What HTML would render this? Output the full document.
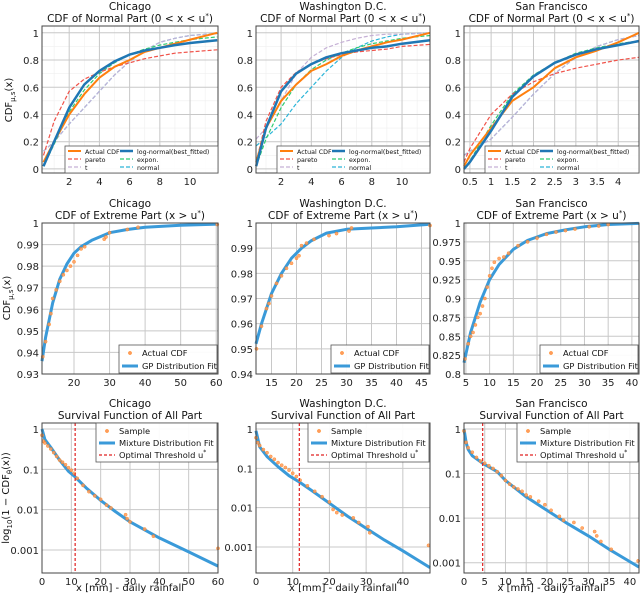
<!DOCTYPE html>
<html><head><meta charset="utf-8"><style>
html,body{margin:0;padding:0;background:#fff}
svg{display:block;font-family:"DejaVu Sans","Liberation Sans",sans-serif}
</style></head><body>
<svg id="fig" width="640" height="598" viewBox="0 0 640 598" xmlns="http://www.w3.org/2000/svg"></svg>
<script>
// ---------- Row 1 data: CDF of normal part ----------
const chiX1 = [0.3,1,2,3,4,5,6,7,8,9,10,11.8];
const chiLogn = [0.02,0.2,0.45,0.62,0.72,0.79,0.84,0.87,0.89,0.91,0.925,0.945];
const chiAct = [0.05,0.2,0.4,0.55,0.67,0.75,0.8,0.86,0.89,0.92,0.95,1.0];
const chiPar = [0.1,0.35,0.57,0.66,0.71,0.75,0.78,0.81,0.83,0.85,0.86,0.875];
const chiT = [0.13,0.2,0.33,0.45,0.57,0.69,0.79,0.87,0.93,0.96,0.98,0.995];
const chiExp = [0.02,0.18,0.42,0.58,0.70,0.78,0.84,0.88,0.91,0.93,0.95,0.97];
const chiNor = [0.13,0.2,0.33,0.45,0.57,0.69,0.79,0.87,0.93,0.96,0.98,0.995];
const dcX1 = [0.35,1,2,3,4,5,6,7,8,9,10,11.85];
const dcLogn = [0.02,0.3,0.57,0.7,0.77,0.82,0.85,0.87,0.89,0.9,0.92,0.945];
const dcAct = [0.05,0.3,0.5,0.62,0.72,0.77,0.83,0.87,0.9,0.93,0.95,1.0];
const dcPar = [0.05,0.35,0.6,0.71,0.77,0.81,0.84,0.86,0.87,0.88,0.9,0.915];
const dcT = [0.22,0.3,0.5,0.7,0.82,0.89,0.93,0.96,0.98,0.99,0.99,1.0];
const dcExp = [0.02,0.22,0.45,0.62,0.73,0.8,0.85,0.89,0.92,0.94,0.96,0.98];
const dcNor = [0.17,0.23,0.33,0.48,0.6,0.72,0.82,0.89,0.94,0.97,0.99,1.0];
const sfX1 = [0.36,0.5,1,1.5,2,2.5,3,3.5,4,4.49];
const sfLogn = [0.0,0.05,0.28,0.53,0.68,0.78,0.84,0.88,0.91,0.94];
const sfAct = [0.02,0.1,0.3,0.5,0.6,0.74,0.82,0.87,0.93,1.0];
const sfPar = [0.05,0.15,0.4,0.55,0.64,0.7,0.74,0.77,0.8,0.82];
const sfT = [0.1,0.13,0.22,0.38,0.55,0.7,0.82,0.9,0.95,0.98];
const sfExp = [0.0,0.06,0.32,0.55,0.69,0.78,0.85,0.89,0.92,0.94];
const sfNor = [0.1,0.13,0.22,0.38,0.55,0.7,0.82,0.9,0.95,0.98];
// ---------- Row 2 data: GP fits + actual CDF ----------
const chiX2 = [11,12,14,16,18,20,22,25,30,35,40,50,60.5];
const chiGP = [0.936,0.947,0.963,0.974,0.981,0.986,0.989,0.992,0.9955,0.997,0.998,0.999,0.9995];
const chiPtX = [11.2,12,13,13.5,14,15,16,17,18,19,20,21,22,23,28.5,29,30,35,38,60.3];
const chiPtY = [0.938,0.945,0.953,0.958,0.965,0.969,0.973,0.976,0.978,0.98,0.982,0.985,0.988,0.989,0.9925,0.9935,0.9955,0.997,0.998,0.9993];
const dcX2 = [11.9,13,15,17,19,21,23,26,30,35,40,46.7];
const dcGP = [0.952,0.96,0.972,0.98,0.986,0.99,0.993,0.996,0.9975,0.998,0.9985,0.9995];
const dcPtX = [12,13,14,14.5,15,16,17,18,19,20,20.5,21,22,23.5,26.5,28,30.5,31,46.7];
const dcPtY = [0.95,0.959,0.966,0.968,0.971,0.976,0.979,0.982,0.984,0.986,0.987,0.991,0.992,0.9935,0.995,0.9958,0.9968,0.998,0.999];
const sfX2 = [4.6,6,8,10,12,15,18,22,26,30,35,41.5];
const sfGP = [0.815,0.855,0.895,0.925,0.945,0.965,0.977,0.986,0.991,0.995,0.998,0.9995];
const sfPtX = [4.8,5.5,6,6.5,7,7.5,8,8.5,9,9.5,10,10.5,11,12,13,14,16,18,20,22,24,26,28,31,33,35];
const sfPtY = [0.82,0.84,0.85,0.855,0.865,0.875,0.88,0.89,0.9,0.915,0.93,0.94,0.948,0.953,0.955,0.96,0.97,0.975,0.98,0.985,0.988,0.99,0.992,0.995,0.996,0.998];
// ---------- Row 3 data: survival ----------
const chiX3 = [0,1,3,6,9,11.3,15,20,25,30,40,50,60];
const chiSF = [1,0.55,0.35,0.17,0.09,0.065,0.035,0.017,0.009,0.005,0.002,0.0009,0.0004];
const chiSX = [0,0.5,1,2,3,4,5,6,7,8,9,10,11,12,14,16,18,20,22,23.5,28.5,29,30,35,38,60];
const chiSY = [0.7,0.5,0.45,0.38,0.32,0.26,0.21,0.17,0.15,0.13,0.11,0.095,0.08,0.06,0.04,0.028,0.022,0.018,0.013,0.011,0.0075,0.006,0.005,0.0033,0.0022,0.0011];
const dcX3 = [0,1,3,6,9,11.8,15,20,25,30,35,40,47.4];
const dcSF = [0.9,0.35,0.2,0.11,0.065,0.045,0.028,0.013,0.006,0.003,0.0015,0.0008,0.0003];
const dcSX = [0,0.5,1,2,3,4,5,6,7,8,9,10,11,12,14,16,18,20,21,22,23.5,26.5,28,30.5,31,47];
const dcSY = [0.6,0.45,0.38,0.3,0.25,0.2,0.17,0.14,0.12,0.105,0.09,0.075,0.062,0.05,0.036,0.026,0.019,0.014,0.009,0.0075,0.0065,0.0055,0.0042,0.0033,0.0023,0.0011];
const sfX3 = [0,0.5,1,2,4.5,8,10,15,20,25,30,35,42.2];
const sfSF = [1,0.5,0.35,0.25,0.17,0.11,0.07,0.03,0.015,0.0075,0.004,0.002,0.0008];
const sfSX = [0,0.5,1,2,3,4,5,6,7,8,9,10,11,12,13,14,15,16,18,19.5,21,23,24,26.5,28.5,31.5,32,33,35.5,42];
const sfSY = [0.9,0.5,0.38,0.3,0.23,0.19,0.17,0.15,0.13,0.11,0.09,0.07,0.058,0.05,0.045,0.04,0.033,0.03,0.024,0.02,0.015,0.011,0.009,0.008,0.006,0.005,0.004,0.003,0.002,0.0011];

const thresholds = [11.3, 11.8, 4.5];

const NS = "http://www.w3.org/2000/svg";
const fig = document.getElementById("fig");
function el(tag, attrs, parent){const e=document.createElementNS(NS,tag);for(const k in attrs)e.setAttribute(k,attrs[k]);(parent||fig).appendChild(e);return e;}
function txt(s, attrs, parent){const t=el("text",attrs,parent);t.innerHTML=s;return t;}
const USTAR='u<tspan font-size="7" dy="-4">*</tspan><tspan dy="4">)</tspan>';

const ORANGE="#ff7f0e", BLUE="#1f77b4", LBLUE="#3a9ad9", RED="#f0534a", LAV="#c5b0d5", GREEN="#2ecc71", CYAN="#2bb5d8";

function panel(p){
  const g=el("g",{});
  
  
  const [L,T,R,B]=p.box;
  const sx=v=>L+(v-p.xl[0])/(p.xl[1]-p.xl[0])*(R-L);
  const sy=p.log? v=>B-(Math.log10(v)-Math.log10(p.yl[0]))/(Math.log10(p.yl[1])-Math.log10(p.yl[0]))*(B-T)
               : v=>B-(v-p.yl[0])/(p.yl[1]-p.yl[0])*(B-T);
  (p.xminor||[]).forEach(v=>{const x=sx(v);if(x>L&&x<R)el("line",{x1:x,x2:x,y1:T,y2:B,stroke:"#efefef","stroke-width":0.6},g);});
  (p.yminor||[]).forEach(v=>{const y=sy(v);if(y>T&&y<B)el("line",{x1:L,x2:R,y1:y,y2:y,stroke:"#efefef","stroke-width":0.6},g);});
  p.xt.forEach((v,i)=>{const x=sx(v);
    el("line",{x1:x,x2:x,y1:T,y2:B,stroke:"#c8c8c8","stroke-width":1},g);
    const t=txt(p.xtl[i],{x:x,y:B+12,"font-size":10,"text-anchor":"middle",fill:"#222"},g);
    
    });
  p.yt.forEach((v,i)=>{const y=sy(v);
    el("line",{x1:L,x2:R,y1:y,y2:y,stroke:"#c8c8c8","stroke-width":1},g);
    const t=txt(p.ytl[i],{x:L-3,y:y+4,"font-size":10,"text-anchor":"end",fill:"#222"},g);
    
    });
  const line=(xs,ys,c,w,dash,nm)=>{const d=xs.map((x,i)=>(i?"L":"M")+sx(x).toFixed(1)+","+sy(ys[i]).toFixed(1)).join("");
    const pth=el("path",{d:d,fill:"none",stroke:c,"stroke-width":w,"stroke-dasharray":dash||"none","stroke-linejoin":"round"},g);
    
    return pth;};
  const pts=(xs,ys,nm)=>{xs.forEach((x,i)=>{const c=el("circle",{cx:sx(x),cy:sy(ys[i]),r:1.6,fill:"#ff9a5c",stroke:ORANGE,"stroke-width":0.5,opacity:0.85},g);
    
    });};
  p.draw(line,pts,sx,sy,T,B,g);
  el("rect",{x:L,y:T,width:R-L,height:B-T,fill:"none",stroke:"#444","stroke-width":1},g);
  const t1=txt(p.city,{x:(L+R)/2,y:T-16,"font-size":10.5,"text-anchor":"middle",fill:"#111"},g);
  
  
  const t2=txt(p.sub,{x:(L+R)/2,y:T-4,"font-size":10.5,"text-anchor":"middle",fill:"#111"},g);
  
  
  if(p.legend) p.legend(g);
  return g;
}
function legendBox(g,x,y,w,h,items,fs){
  const lg=el("g",{},g);
  
  
  el("rect",{x:x,y:y,width:w,height:h,fill:"#fff","fill-opacity":0.92,stroke:"#555","stroke-width":0.8},lg);
  items.forEach(it=>{
    const e=el("g",{},lg);
    
    
    if(it.kind==="dot") el("circle",{cx:it.x+it.len/2,cy:it.y-3,r:1.6,fill:"#ff9a5c",stroke:ORANGE,"stroke-width":0.5},e);
    else el("line",{x1:it.x,x2:it.x+it.len,y1:it.y-3,y2:it.y-3,stroke:it.c,"stroke-width":it.w,"stroke-dasharray":it.dash||"none"},e);
    txt(it.t,{x:it.x+it.len+4,y:it.y,"font-size":fs,fill:"#111"},e);
  });
}
const R1=[26,173], R2=[223,374], R3=[423,573];
const C1=[42,218], C2=[256,430], C3=[464,639];
function row1Legend(g,L,R){
  const x0=L+23, x1=L+78;
  legendBox(g,x0,146,R-x0,27,[
    {x:x0+3,y:154,c:ORANGE,w:2,len:13,t:"Actual CDF"},
    {x:x0+3,y:162,c:RED,w:1.2,dash:"4 2",len:13,t:"pareto"},
    {x:x0+3,y:170,c:LAV,w:1.2,dash:"4 2",len:13,t:"t"},
    {x:x1,y:154,c:BLUE,w:2.5,len:13,t:"log-normal(best_fitted)"},
    {x:x1,y:162,c:GREEN,w:1.2,dash:"4 2",len:13,t:"expon."},
    {x:x1,y:170,c:CYAN,w:1.2,dash:"4 2",len:13,t:"normal"}],6.3);
}
function row1Draw(X,A,Lg,P,Tt,E,N){return (line)=>{
  line(X,N,CYAN,1.2,"4 2","normal-fit");
  line(X,Tt,LAV,1.2,"4 2","t-fit");
  line(X,E,GREEN,1.2,"4 2","expon-fit");
  line(X,P,RED,1.2,"4 2","pareto-fit");
  line(X,A,ORANGE,2,null,"actual-cdf");
  line(X,Lg,BLUE,2.5,null,"lognormal-fit");
};}
const ytick1=[0,0.2,0.4,0.6,0.8,1], ytl1=["0","0.2","0.4","0.6","0.8","1"];
const minors=(a,b,s)=>{const r=[];for(let v=a;v<=b+1e-9;v+=s)r.push(+v.toFixed(4));return r;};
const sub1='CDF of Normal Part (0 &lt; x &lt; '+USTAR;
const sub2='CDF of Extreme Part (x &gt; '+USTAR;
panel({name:"chicago-normal-cdf",box:[C1[0],R1[0],C1[1],R1[1]],xl:[0.2,11.85],yl:[-0.03,1.05],city:"Chicago",sub:sub1,
  xt:[2,4,6,8,10],xtl:["2","4","6","8","10"],yt:ytick1,ytl:ytl1,xminor:minors(1,11,1),yminor:minors(0,1,0.1),
  draw:row1Draw(chiX1,chiAct,chiLogn,chiPar,chiT,chiExp,chiNor),legend:g=>row1Legend(g,C1[0],C1[1])});
panel({name:"washington-normal-cdf",box:[C2[0],R1[0],C2[1],R1[1]],xl:[0.34,11.85],yl:[-0.03,1.05],city:"Washington D.C.",sub:sub1,
  xt:[2,4,6,8,10],xtl:["2","4","6","8","10"],yt:ytick1,ytl:ytl1,xminor:minors(1,11,1),yminor:minors(0,1,0.1),
  draw:row1Draw(dcX1,dcAct,dcLogn,dcPar,dcT,dcExp,dcNor),legend:g=>row1Legend(g,C2[0]-2,C2[1])});
panel({name:"sanfrancisco-normal-cdf",box:[C3[0],R1[0],C3[1],R1[1]],xl:[0.36,4.49],yl:[-0.03,1.05],city:"San Francisco",sub:sub1,
  xt:[0.5,1,1.5,2,2.5,3,3.5,4],xtl:["0.5","1","1.5","2","2.5","3","3.5","4"],yt:ytick1,ytl:ytl1,yminor:minors(0,1,0.1),
  draw:row1Draw(sfX1,sfAct,sfLogn,sfPar,sfT,sfExp,sfNor),legend:g=>row1Legend(g,C3[0]-2,C3[1])});
function r2Draw(X,Y,PX,PY){return (line,pts)=>{line(X,Y,LBLUE,3,null,"gp-fit");pts(PX,PY,"actual-cdf-point");};}
function r2Legend(R){return g=>legendBox(g,R-99,345,98,28,[
  {kind:"dot",x:R-96,y:356,len:16,t:"Actual CDF"},
  {x:R-96,y:369,c:LBLUE,w:3,len:16,t:"GP Distribution Fit"}],8.3);}
panel({name:"chicago-extreme-cdf",box:[C1[0],R2[0],C1[1],R2[1]],xl:[11,60.5],yl:[0.93,1],city:"Chicago",sub:sub2,
  xt:[20,30,40,50,60],xtl:["20","30","40","50","60"],yt:[0.93,0.94,0.95,0.96,0.97,0.98,0.99,1],ytl:["0.93","0.94","0.95","0.96","0.97","0.98","0.99","1"],
  draw:r2Draw(chiX2,chiGP,chiPtX,chiPtY),legend:r2Legend(C1[1])});
panel({name:"washington-extreme-cdf",box:[C2[0],R2[0],C2[1],R2[1]],xl:[11.9,46.7],yl:[0.94,1],city:"Washington D.C.",sub:sub2,
  xt:[15,20,25,30,35,40,45],xtl:["15","20","25","30","35","40","45"],yt:[0.94,0.95,0.96,0.97,0.98,0.99,1],ytl:["0.94","0.95","0.96","0.97","0.98","0.99","1"],
  draw:r2Draw(dcX2,dcGP,dcPtX,dcPtY),legend:r2Legend(C2[1])});
panel({name:"sanfrancisco-extreme-cdf",box:[C3[0],R2[0],C3[1],R2[1]],xl:[4.6,41.5],yl:[0.8,1],city:"San Francisco",sub:sub2,
  xt:[5,10,15,20,25,30,35,40],xtl:["5","10","15","20","25","30","35","40"],yt:[0.8,0.825,0.85,0.875,0.9,0.925,0.95,0.975,1],ytl:["0.8","0.825","0.85","0.875","0.9","0.925","0.95","0.975","1"],
  draw:r2Draw(sfX2,sfGP,sfPtX,sfPtY),legend:r2Legend(C3[1])});
function r3Draw(X,Y,PX,PY,th){return (line,pts,sx,sy,T,B,g)=>{
  line(X,Y,LBLUE,3,null,"mixture-fit");pts(PX,PY,"sample-point");
  const l=el("line",{x1:sx(th),x2:sx(th),y1:T,y2:B,stroke:"#e02020","stroke-width":1.2,"stroke-dasharray":"3 2"},g);
  
  };}
function r3Legend(R){return g=>legendBox(g,R-122,423,121,39,[
  {kind:"dot",x:R-119,y:434,len:16,t:"Sample"},
  {x:R-119,y:446,c:LBLUE,w:3,len:16,t:"Mixture Distribution Fit"},
  {x:R-119,y:458,c:"#e02020",w:1.2,dash:"3 2",len:16,t:'Optimal Threshold u<tspan font-size="6" dy="-4">*</tspan>'}],8.3);}
const ylog=[1,0.1,0.01,0.001], ylogl=["1","0.1","0.01","0.001"];
const logMinor=[];[0.0001,0.001,0.01,0.1,1].forEach(d=>{for(let k=2;k<10;k++)logMinor.push(d*k);});
panel({name:"chicago-survival",box:[C1[0],R3[0],C1[1],R3[1]],xl:[0,60],yl:[Math.pow(10,-3.57),1.41],log:true,city:"Chicago",sub:"Survival Function of All Part",
  xt:[0,10,20,30,40,50,60],xtl:["0","10","20","30","40","50","60"],yt:ylog,ytl:ylogl,
  draw:r3Draw(chiX3,chiSF,chiSX,chiSY,thresholds[0]),legend:r3Legend(C1[1])});
panel({name:"washington-survival",box:[C2[0],R3[0],C2[1],R3[1]],xl:[0,47.4],yl:[Math.pow(10,-3.66),1.42],log:true,city:"Washington D.C.",sub:"Survival Function of All Part",
  xt:[0,10,20,30,40],xtl:["0","10","20","30","40"],yt:ylog,ytl:ylogl,
  draw:r3Draw(dcX3,dcSF,dcSX,dcSY,thresholds[1]),legend:r3Legend(C2[1])});
panel({name:"sanfrancisco-survival",box:[C3[0],R3[0],C3[1],R3[1]],xl:[0,42.2],yl:[Math.pow(10,-3.23),1.36],log:true,city:"San Francisco",sub:"Survival Function of All Part",
  xt:[0,5,10,15,20,25,30,35,40],xtl:["0","5","10","15","20","25","30","35","40"],yt:ylog,ytl:ylogl,
  draw:r3Draw(sfX3,sfSF,sfSX,sfSY,thresholds[2]),legend:r3Legend(C3[1])});
function rot(s,x,y,nm){const t=txt(s,{x:0,y:0,transform:`translate(${x},${y}) rotate(-90)`,"font-size":10,"text-anchor":"middle",fill:"#111"});
  
  }
rot('CDF<tspan font-size="7" dy="3">μ,s</tspan><tspan dy="-3">(x)</tspan>',12,100,"y-axis-title-normal");
rot('CDF<tspan font-size="7" dy="3">μ,s</tspan><tspan dy="-3">(x)</tspan>',10,298,"y-axis-title-extreme");
rot('log<tspan font-size="7" dy="3">10</tspan><tspan dy="-3">(1 − CDF</tspan><tspan font-size="7" dy="3">θ</tspan><tspan dy="-3">(x))</tspan>',9,498,"y-axis-title-survival");
[C1,C2,C3].forEach(c=>{const t=txt("x [mm] - daily rainfall",{x:(c[0]+c[1])/2,y:591,"font-size":10,"text-anchor":"middle",fill:"#111"});
  
  });
</script>
</body></html>
